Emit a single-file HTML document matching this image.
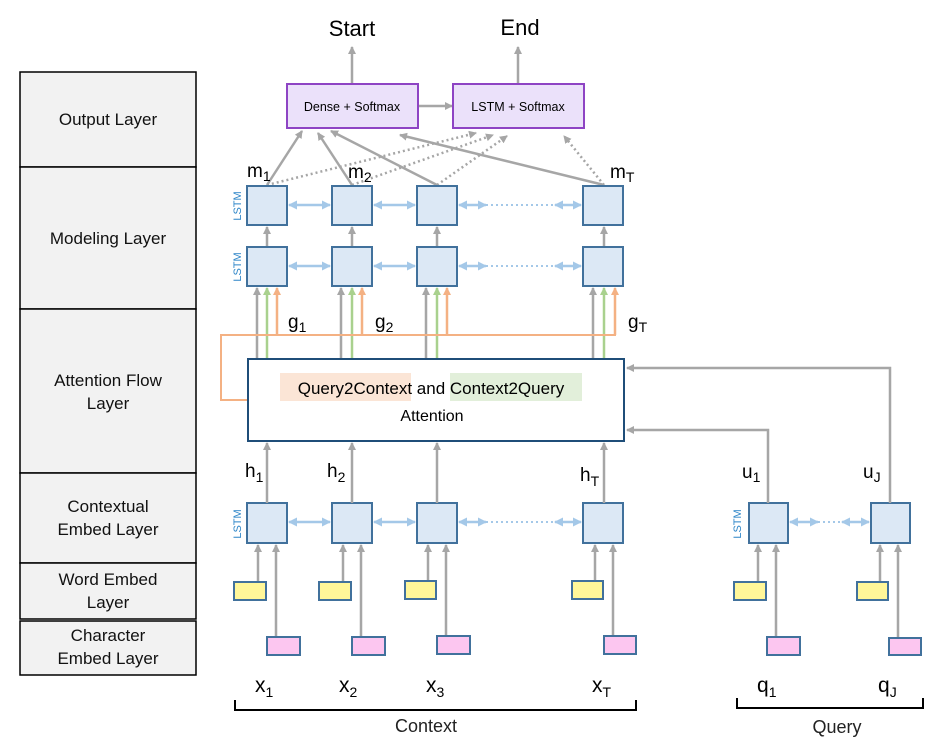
<!DOCTYPE html>
<html><head><meta charset="utf-8"><style>
body{margin:0;background:#fff;}
svg{display:block;font-family:"Liberation Sans",sans-serif;}
</style></head><body>
<svg width="948" height="755" viewBox="0 0 948 755" xmlns="http://www.w3.org/2000/svg">
<defs>
<marker id="ag" markerWidth="8" markerHeight="8" refX="7" refY="4" orient="auto" markerUnits="userSpaceOnUse"><path d="M0,0 L8,4 L0,8 z" fill="#a6a6a6"/></marker>
<marker id="agn" markerWidth="8" markerHeight="8" refX="7" refY="4" orient="auto" markerUnits="userSpaceOnUse"><path d="M0,0 L8,4 L0,8 z" fill="#a9d18e"/></marker>
<marker id="ao" markerWidth="8" markerHeight="8" refX="7" refY="4" orient="auto" markerUnits="userSpaceOnUse"><path d="M0,0 L8,4 L0,8 z" fill="#f4b183"/></marker>
<marker id="ab" markerWidth="9" markerHeight="9" refX="8" refY="4.5" orient="auto-start-reverse" markerUnits="userSpaceOnUse"><path d="M0,0 L9,4.5 L0,9 z" fill="#a4c8e8"/></marker>
</defs>

<!-- left panel -->
<g fill="#f2f2f2" stroke="#000" stroke-width="1.5">
<rect x="20" y="72" width="176" height="95"/>
<rect x="20" y="167" width="176" height="142"/>
<rect x="20" y="309" width="176" height="164"/>
<rect x="20" y="473" width="176" height="90"/>
<rect x="20" y="563" width="176" height="56"/>
<rect x="20" y="621" width="176" height="54"/>
</g>
<g font-size="17" text-anchor="middle" fill="#111">
<text x="108" y="125">Output Layer</text>
<text x="108" y="244">Modeling Layer</text>
<text x="108" y="386">Attention Flow</text>
<text x="108" y="409">Layer</text>
<text x="108" y="512">Contextual</text>
<text x="108" y="535">Embed Layer</text>
<text x="108" y="585">Word Embed</text>
<text x="108" y="608">Layer</text>
<text x="108" y="641">Character</text>
<text x="108" y="664">Embed Layer</text>
</g>

<!-- Start / End -->
<text x="352" y="36" font-size="22" text-anchor="middle">Start</text>
<text x="520" y="35" font-size="22" text-anchor="middle">End</text>
<g stroke="#a6a6a6" stroke-width="2.5" fill="none">
<line x1="352" y1="84" x2="352" y2="47" marker-end="url(#ag)"/>
<line x1="518" y1="84" x2="518" y2="47" marker-end="url(#ag)"/>
<line x1="418" y1="106" x2="452" y2="106" marker-end="url(#ag)"/>
</g>
<g fill="#ebe1fa" stroke="#8e44c4" stroke-width="2">
<rect x="287" y="84" width="131" height="44"/>
<rect x="453" y="84" width="131" height="44"/>
</g>
<text x="352" y="111" font-size="12.5" text-anchor="middle">Dense + Softmax</text>
<text x="518" y="111" font-size="12.5" text-anchor="middle">LSTM + Softmax</text>

<!-- output connections -->
<g stroke="#a6a6a6" stroke-width="2.5" fill="none">
<line x1="267" y1="185" x2="302" y2="131" marker-end="url(#ag)"/>
<line x1="352" y1="185" x2="318" y2="133" marker-end="url(#ag)"/>
<line x1="437" y1="185" x2="331" y2="131" marker-end="url(#ag)"/>
<line x1="604" y1="185" x2="400" y2="135" marker-end="url(#ag)"/>
</g>
<g stroke="#a6a6a6" stroke-width="2.5" fill="none" stroke-dasharray="2,3">
<line x1="267" y1="185" x2="476" y2="133" marker-end="url(#ag)"/>
<line x1="352" y1="185" x2="493" y2="135" marker-end="url(#ag)"/>
<line x1="437" y1="185" x2="507" y2="136" marker-end="url(#ag)"/>
<line x1="604" y1="185" x2="564" y2="136" marker-end="url(#ag)"/>
</g>
<g font-size="19">
<text x="247" y="177">m<tspan font-size="14" dy="4">1</tspan></text>
<text x="348" y="178">m<tspan font-size="14" dy="4">2</tspan></text>
<text x="610" y="178">m<tspan font-size="14" dy="4">T</tspan></text>
</g>

<!-- modeling LSTMs vertical arrows -->
<g stroke="#a6a6a6" stroke-width="2.5">
<line x1="267" y1="247" x2="267" y2="227" marker-end="url(#ag)"/>
<line x1="352" y1="247" x2="352" y2="227" marker-end="url(#ag)"/>
<line x1="437" y1="247" x2="437" y2="227" marker-end="url(#ag)"/>
<line x1="604" y1="247" x2="604" y2="227" marker-end="url(#ag)"/>
</g>
<!-- blue bi-arrows -->
<g stroke="#a4c8e8" stroke-width="2.5" fill="none">
<line x1="289" y1="205" x2="330" y2="205" marker-start="url(#ab)" marker-end="url(#ab)"/>
<line x1="374" y1="205" x2="415" y2="205" marker-start="url(#ab)" marker-end="url(#ab)"/>
<line x1="459" y1="205" x2="486" y2="205" marker-start="url(#ab)" marker-end="url(#ab)"/>
<line x1="555" y1="205" x2="581" y2="205" marker-start="url(#ab)" marker-end="url(#ab)"/>
<line x1="486" y1="205" x2="555" y2="205" stroke-dasharray="2,3" stroke-width="2"/>
<line x1="289" y1="266" x2="330" y2="266" marker-start="url(#ab)" marker-end="url(#ab)"/>
<line x1="374" y1="266" x2="415" y2="266" marker-start="url(#ab)" marker-end="url(#ab)"/>
<line x1="459" y1="266" x2="486" y2="266" marker-start="url(#ab)" marker-end="url(#ab)"/>
<line x1="555" y1="266" x2="581" y2="266" marker-start="url(#ab)" marker-end="url(#ab)"/>
<line x1="486" y1="266" x2="555" y2="266" stroke-dasharray="2,3" stroke-width="2"/>
<line x1="289" y1="522" x2="330" y2="522" marker-start="url(#ab)" marker-end="url(#ab)"/>
<line x1="374" y1="522" x2="415" y2="522" marker-start="url(#ab)" marker-end="url(#ab)"/>
<line x1="459" y1="522" x2="486" y2="522" marker-start="url(#ab)" marker-end="url(#ab)"/>
<line x1="555" y1="522" x2="581" y2="522" marker-start="url(#ab)" marker-end="url(#ab)"/>
<line x1="486" y1="522" x2="555" y2="522" stroke-dasharray="2,3" stroke-width="2"/>
<line x1="790" y1="522" x2="818" y2="522" marker-start="url(#ab)" marker-end="url(#ab)"/>
<line x1="842" y1="522" x2="869" y2="522" marker-start="url(#ab)" marker-end="url(#ab)"/>
<line x1="818" y1="522" x2="842" y2="522" stroke-dasharray="2,3" stroke-width="2"/>
</g>

<!-- LSTM boxes -->
<g fill="#dce8f5" stroke="#41719c" stroke-width="2">
<rect x="247" y="186" width="40" height="39"/><rect x="332" y="186" width="40" height="39"/><rect x="417" y="186" width="40" height="39"/><rect x="583" y="186" width="40" height="39"/>
<rect x="247" y="247" width="40" height="39"/><rect x="332" y="247" width="40" height="39"/><rect x="417" y="247" width="40" height="39"/><rect x="583" y="247" width="40" height="39"/>
<rect x="247" y="503" width="40" height="40"/><rect x="332" y="503" width="40" height="40"/><rect x="417" y="503" width="40" height="40"/><rect x="583" y="503" width="40" height="40"/>
<rect x="749" y="503" width="39" height="40"/><rect x="871" y="503" width="39" height="40"/>
</g>
<g font-size="11" fill="#2e86c8" text-anchor="middle">
<text transform="translate(241,206) rotate(-90)">LSTM</text>
<text transform="translate(241,267) rotate(-90)">LSTM</text>
<text transform="translate(241,524) rotate(-90)">LSTM</text>
<text transform="translate(741,524) rotate(-90)">LSTM</text>
</g>

<!-- attention outputs to modeling -->
<g stroke-width="2.5">
<g stroke="#a6a6a6">
<line x1="257" y1="359" x2="257" y2="288" marker-end="url(#ag)"/>
<line x1="341" y1="359" x2="341" y2="288" marker-end="url(#ag)"/>
<line x1="426" y1="359" x2="426" y2="288" marker-end="url(#ag)"/>
<line x1="593" y1="359" x2="593" y2="288" marker-end="url(#ag)"/>
</g>
<g stroke="#a9d18e">
<line x1="267" y1="359" x2="267" y2="288" marker-end="url(#agn)"/>
<line x1="352" y1="359" x2="352" y2="288" marker-end="url(#agn)"/>
<line x1="437" y1="359" x2="437" y2="288" marker-end="url(#agn)"/>
<line x1="604" y1="359" x2="604" y2="288" marker-end="url(#agn)"/>
</g>
<g stroke="#f4b183" fill="none">
<line x1="277" y1="335" x2="277" y2="288" marker-end="url(#ao)"/>
<line x1="362" y1="335" x2="362" y2="288" marker-end="url(#ao)"/>
<line x1="447" y1="335" x2="447" y2="288" marker-end="url(#ao)"/>
<line x1="615" y1="335" x2="615" y2="288" marker-end="url(#ao)"/>
<polyline points="248,400 221,400 221,335 616,335" stroke-width="2"/>
</g>
</g>
<g font-size="19">
<text x="288" y="328">g<tspan font-size="14" dy="4">1</tspan></text>
<text x="375" y="328">g<tspan font-size="14" dy="4">2</tspan></text>
<text x="628" y="328">g<tspan font-size="14" dy="4">T</tspan></text>
</g>

<!-- attention box -->
<rect x="248" y="359" width="376" height="82" fill="#fff" stroke="#1f4e79" stroke-width="2"/>
<rect x="280" y="373" width="131" height="28" fill="#fbe5d6"/>
<rect x="450" y="373" width="132" height="28" fill="#e2efda"/>
<text x="431" y="394" font-size="17" text-anchor="middle">Query2Context and Context2Query</text>
<text x="432" y="421" font-size="16" text-anchor="middle">Attention</text>

<!-- query connections -->
<g stroke="#a6a6a6" stroke-width="2.5" fill="none">
<polyline points="768,503 768,430 627,430" marker-end="url(#ag)"/>
<polyline points="890,503 890,368 627,368" marker-end="url(#ag)"/>
<line x1="267" y1="503" x2="267" y2="443" marker-end="url(#ag)"/>
<line x1="352" y1="503" x2="352" y2="443" marker-end="url(#ag)"/>
<line x1="437" y1="503" x2="437" y2="443" marker-end="url(#ag)"/>
<line x1="604" y1="503" x2="604" y2="443" marker-end="url(#ag)"/>
<!-- embed arrows -->
<line x1="258" y1="581" x2="258" y2="545" marker-end="url(#ag)"/>
<line x1="276" y1="636" x2="276" y2="545" marker-end="url(#ag)"/>
<line x1="343" y1="581" x2="343" y2="545" marker-end="url(#ag)"/>
<line x1="361" y1="636" x2="361" y2="545" marker-end="url(#ag)"/>
<line x1="428" y1="580" x2="428" y2="545" marker-end="url(#ag)"/>
<line x1="446" y1="635" x2="446" y2="545" marker-end="url(#ag)"/>
<line x1="595" y1="580" x2="595" y2="545" marker-end="url(#ag)"/>
<line x1="613" y1="636" x2="613" y2="545" marker-end="url(#ag)"/>
<line x1="758" y1="581" x2="758" y2="545" marker-end="url(#ag)"/>
<line x1="776" y1="636" x2="776" y2="545" marker-end="url(#ag)"/>
<line x1="880" y1="581" x2="880" y2="545" marker-end="url(#ag)"/>
<line x1="898" y1="637" x2="898" y2="545" marker-end="url(#ag)"/>
</g>
<g font-size="19">
<text x="245" y="477">h<tspan font-size="14" dy="5">1</tspan></text>
<text x="327" y="477">h<tspan font-size="14" dy="5">2</tspan></text>
<text x="580" y="481">h<tspan font-size="14" dy="5">T</tspan></text>
<text x="742" y="478">u<tspan font-size="14" dy="4">1</tspan></text>
<text x="863" y="478">u<tspan font-size="14" dy="4">J</tspan></text>
</g>

<!-- embed boxes -->
<g fill="#fff799" stroke="#41719c" stroke-width="2">
<rect x="234" y="582" width="32" height="18"/><rect x="319" y="582" width="32" height="18"/><rect x="405" y="581" width="31" height="18"/><rect x="572" y="581" width="31" height="18"/>
<rect x="734" y="582" width="32" height="18"/><rect x="857" y="582" width="31" height="18"/>
</g>
<g fill="#fcc6f0" stroke="#41719c" stroke-width="2">
<rect x="267" y="637" width="33" height="18"/><rect x="352" y="637" width="33" height="18"/><rect x="437" y="636" width="33" height="18"/><rect x="604" y="636" width="32" height="18"/>
<rect x="767" y="637" width="33" height="18"/><rect x="889" y="638" width="32" height="17"/>
</g>

<!-- inputs -->
<g font-size="21">
<text x="255" y="692">x<tspan font-size="14" dy="5">1</tspan></text>
<text x="339" y="692">x<tspan font-size="14" dy="5">2</tspan></text>
<text x="426" y="692">x<tspan font-size="14" dy="5">3</tspan></text>
<text x="592" y="692">x<tspan font-size="14" dy="5">T</tspan></text>
<text x="757" y="692">q<tspan font-size="14" dy="5">1</tspan></text>
<text x="878" y="692">q<tspan font-size="14" dy="5">J</tspan></text>
</g>
<g stroke="#000" stroke-width="2" fill="none">
<polyline points="235,700 235,710 636,710 636,700"/>
<polyline points="737,698 737,708 923,708 923,698"/>
</g>
<text x="426" y="732" font-size="18" text-anchor="middle" fill="#222">Context</text>
<text x="837" y="733" font-size="18" text-anchor="middle" fill="#222">Query</text>
</svg>
</body></html>
